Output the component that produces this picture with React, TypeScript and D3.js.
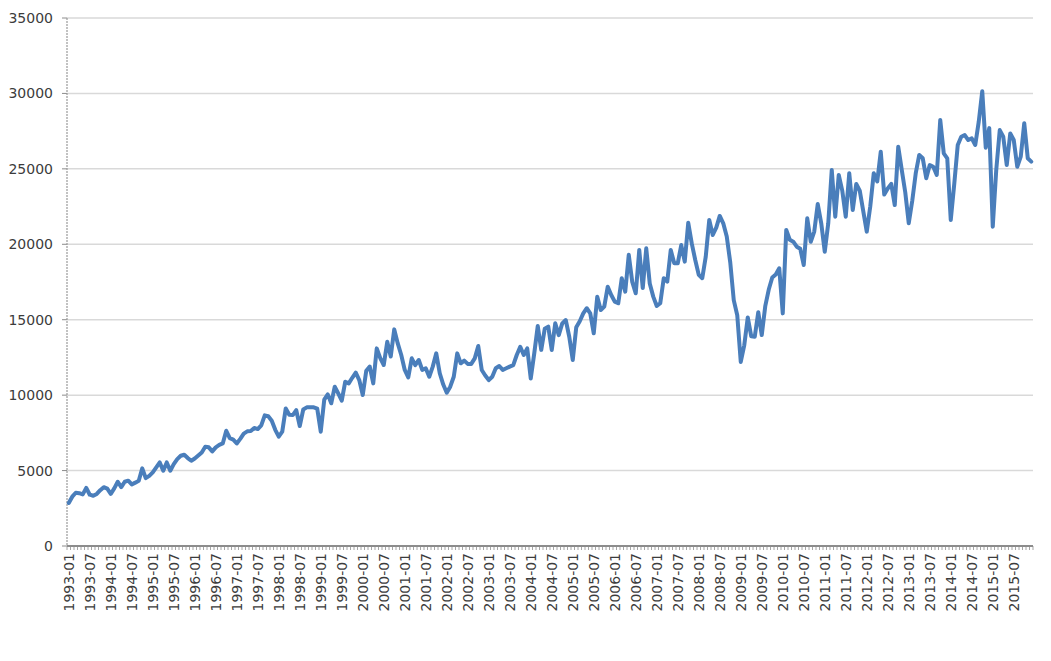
import React from "react";
import * as d3 from "d3";

const years = d3.range(1993, 2016);
const months = ["01","02","03","04","05","06","07","08","09","10","11","12"];
const categories: string[] = years.flatMap((y) => months.map((m) => `${y}-${m}`));

const values: number[] = [
  // 1993
  2850, 3270, 3530, 3500, 3420, 3850, 3400, 3330, 3450, 3700, 3900, 3800,
  // 1994
  3450, 3820, 4260, 3900, 4260, 4330, 4080, 4200, 4330, 5150, 4500, 4650,
  // 1995
  4880, 5210, 5540, 4990, 5540, 4990, 5430, 5760, 5980, 6050, 5830, 5650,
  // 1996
  5800, 6000, 6200, 6580, 6540, 6270, 6540, 6700, 6800, 7640, 7150, 7050,
  // 1997
  6800, 7100, 7450, 7600, 7620, 7820, 7750, 8000, 8660, 8600, 8300, 7700,
  // 1998
  7250, 7580, 9120, 8700, 8680, 9000, 7950, 9050, 9190, 9190, 9190, 9100,
  // 1999
  7580, 9700, 10050, 9460, 10560, 10120, 9630, 10890, 10780, 11150, 11490, 11000,
  // 2000
  10010, 11620, 11890, 10780, 13100, 12450, 12000, 13540, 12560, 14360, 13430, 12660,
  // 2001
  11670, 11180, 12440, 11990, 12330, 11670, 11780, 11220, 11890, 12770, 11450, 10700,
  // 2002
  10160, 10560, 11220, 12770, 12110, 12290, 12070, 12070, 12440, 13260, 11670, 11300,
  // 2003
  11000, 11220, 11780, 11930, 11670, 11780, 11890, 11990, 12660, 13210, 12660, 13100,
  // 2004
  11100, 12770, 14580, 13000, 14400, 14540, 12990, 14760, 13980, 14760, 14980, 13870,
  // 2005
  12330, 14500, 14900, 15420, 15760, 15420, 14100, 16530, 15640, 15870, 17190, 16640,
  // 2006
  16200, 16090, 17750, 16860, 19300, 17500, 16750, 19620, 17100, 19730, 17400, 16530,
  // 2007
  15910, 16090, 17750, 17520, 19620, 18740, 18740, 19950, 18850, 21430, 20060, 18960,
  // 2008
  17970, 17750, 19180, 21610, 20620, 21100, 21880, 21390, 20510, 18800, 16300, 15300,
  // 2009
  12200, 13300, 15150, 13900, 13870, 15500, 13980, 15900, 17000, 17800, 18000, 18410,
  // 2010
  15420, 20950, 20300, 20170, 19840, 19700, 18630, 21720, 20170, 20840, 22670, 21390,
  // 2011
  19510, 21390, 24930, 21830, 24600, 23560, 21830, 24710, 22270, 24000, 23560, 22200,
  // 2012
  20840, 22500, 24710, 24160, 26140, 23300, 23700, 24000, 22600, 26470, 24930, 23450,
  // 2013
  21390, 22890, 24710, 25920, 25700, 24380, 25250, 25140, 24600, 28240, 26030, 25700,
  // 2014
  21610, 24000, 26580, 27130, 27240, 26910, 27020, 26580, 28130, 30150, 26400, 27700,
  // 2015
  21170, 24930, 27570, 27130, 25250, 27350, 26910, 25140, 25810, 28020, 25700, 25480,
];

const yTicks = [0, 5000, 10000, 15000, 20000, 25000, 30000, 35000];
const labelStep = 6;

const W = 1051;
const H = 661;
const plotLeft = 67;
const plotRight = 1033;
const plotTop = 18;
const plotBottom = 546;
const font = "'DejaVu Sans', Verdana, sans-serif";

export default function App() {
  const x = d3.scaleBand<string>().domain(categories).range([plotLeft, plotRight]).padding(0);
  const y = d3.scaleLinear().domain([0, 35000]).range([plotBottom, plotTop]);
  const bw = x.bandwidth();
  const cx = (c: string) => (x(c) as number) + bw / 2;

  const line = d3
    .line<number>()
    .x((_, i) => cx(categories[i]))
    .y((d) => y(d));

  const boundaries = d3.range(categories.length + 1).map((i) => plotLeft + i * bw);

  return (
    <svg
      width={W}
      height={H}
      style={{ position: "absolute", left: 0, top: 0, background: "#fff" }}
    >
      <rect x={0} y={0} width={W} height={H} fill="#fff" />
      {yTicks.map((t) => (
        <g key={t}>
          {t > 0 && (
            <line x1={plotLeft} x2={plotRight} y1={y(t)} y2={y(t)} stroke="#d9d9d9" strokeWidth={1.5} />
          )}
          <line x1={plotLeft - 5} x2={plotLeft} y1={y(t)} y2={y(t)} stroke="#8c8c8c" strokeWidth={1} />
          <text
            x={53}
            y={y(t)}
            textAnchor="end"
            dominantBaseline="central"
            fontFamily={font}
            fontSize={14}
            fill="#3c3c3c"
          >
            {t}
          </text>
        </g>
      ))}
      <line
        x1={plotLeft}
        x2={plotLeft}
        y1={plotTop}
        y2={plotBottom}
        stroke="#9a9a9a"
        strokeWidth={1.2}
        strokeDasharray="2 1"
      />
      {boundaries.map((bx, i) => (
        <line key={i} x1={bx} x2={bx} y1={plotBottom} y2={plotBottom + 4} stroke="#a6a6a6" strokeWidth={1} />
      ))}
      <line x1={plotLeft} x2={plotRight} y1={plotBottom} y2={plotBottom} stroke="#8c8c8c" strokeWidth={2} />
      <path
        d={line(values) || ""}
        fill="none"
        stroke="#4A7EBB"
        strokeWidth={4}
        strokeLinejoin="round"
        strokeLinecap="round"
      />
      {categories.map((c, i) =>
        i % labelStep === 0 ? (
          <text
            key={c}
            transform={`translate(${cx(c)},${plotBottom + 7}) rotate(-90)`}
            textAnchor="end"
            dominantBaseline="central"
            fontFamily={font}
            fontSize={14}
            fill="#3c3c3c"
          >
            {c}
          </text>
        ) : null
      )}
    </svg>
  );
}
